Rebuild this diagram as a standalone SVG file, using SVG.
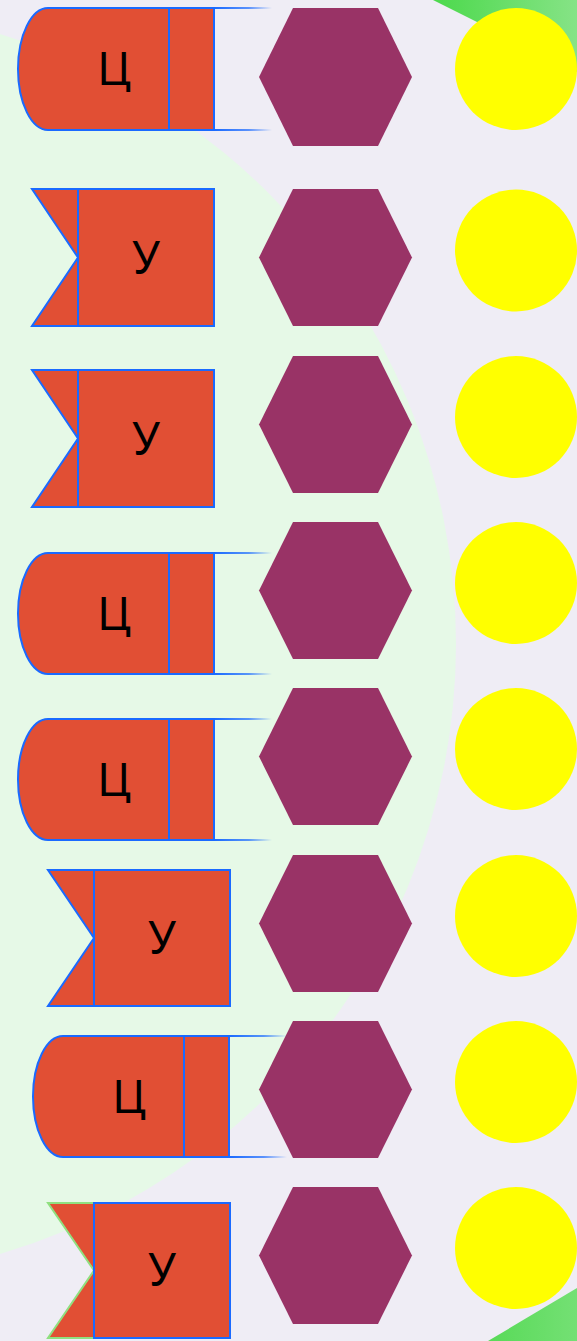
<svg xmlns="http://www.w3.org/2000/svg" width="577" height="1341" viewBox="0 0 577 1341">
  <defs>
    <linearGradient id="gTop" x1="0" y1="0" x2="1" y2="0">
      <stop offset="0" stop-color="#4CD94C"/>
      <stop offset="1" stop-color="#86E386"/>
    </linearGradient>
    <linearGradient id="gBot" x1="0" y1="0" x2="1" y2="0">
      <stop offset="0" stop-color="#58DA58"/>
      <stop offset="1" stop-color="#74E074"/>
    </linearGradient>
    <linearGradient id="fade" gradientUnits="userSpaceOnUse" x1="196" y1="0" x2="254" y2="0">
      <stop offset="0" stop-color="#1A6AFF"/>
      <stop offset="0.6" stop-color="#1A6AFF" stop-opacity="0.7"/>
      <stop offset="1" stop-color="#1A6AFF" stop-opacity="0"/>
    </linearGradient>
    <style>
      .red { fill: #E14F34; stroke: #1A6AFF; stroke-width: 2; }
      .ln { stroke: #1A6AFF; stroke-width: 2; fill: none; }
      .ext { stroke: url(#fade); stroke-width: 2; fill: none; }
      .tailg { fill: #E14F34; stroke: #90E080; stroke-width: 2; }
      .lbl { font-family: "Noto Sans", "DejaVu Sans", sans-serif; font-size: 45px; fill: #000; text-anchor: middle; }
      .hex { fill: #993366; }
      .sun { fill: #FFFF00; }
    </style>
  </defs>

  <!-- background -->
  <rect x="0" y="0" width="577" height="1341" fill="#EFEDF5"/>
  <circle cx="-180" cy="644" r="636" fill="#E6F9E7"/>
  <polygon points="433,0 577,0 577,72" fill="url(#gTop)"/>
  <polygon points="488,1341 577,1288 577,1341" fill="url(#gBot)"/>

  <!-- left column: Ц nodes and У flags -->
  <g id="c1" transform="translate(18,8)">
    <path class="red" d="M30,0 H196 V122 H30 A30,61 0 0 1 0,61 A30,61 0 0 1 30,0 Z"/>
    <line class="ln" x1="151" y1="0" x2="151" y2="122"/>
    <line class="ext" x1="196" y1="0" x2="254" y2="0"/>
    <line class="ext" x1="196" y1="122" x2="254" y2="122"/>
    <text class="lbl" x="96" y="77">Ц</text>
  </g>

  <g id="f2" transform="translate(32,189)">
    <polygon class="red" points="0,0 46,0 46,137 0,137 46,68.5"/>
    <rect class="red" x="46" y="0" width="136" height="137"/>
    <text class="lbl" x="114" y="85">У</text>
  </g>

  <g id="f3" transform="translate(32,370)">
    <polygon class="red" points="0,0 46,0 46,137 0,137 46,68.5"/>
    <rect class="red" x="46" y="0" width="136" height="137"/>
    <text class="lbl" x="114" y="85">У</text>
  </g>

  <g id="c4" transform="translate(18,553)">
    <path class="red" d="M30,0 H196 V121 H30 A30,60.5 0 0 1 0,60.5 A30,60.5 0 0 1 30,0 Z"/>
    <line class="ln" x1="151" y1="0" x2="151" y2="121"/>
    <line class="ext" x1="196" y1="0" x2="254" y2="0"/>
    <line class="ext" x1="196" y1="121" x2="254" y2="121"/>
    <text class="lbl" x="96" y="77">Ц</text>
  </g>

  <g id="c5" transform="translate(18,719)">
    <path class="red" d="M30,0 H196 V121 H30 A30,60.5 0 0 1 0,60.5 A30,60.5 0 0 1 30,0 Z"/>
    <line class="ln" x1="151" y1="0" x2="151" y2="121"/>
    <line class="ext" x1="196" y1="0" x2="254" y2="0"/>
    <line class="ext" x1="196" y1="121" x2="254" y2="121"/>
    <text class="lbl" x="96" y="77">Ц</text>
  </g>

  <g id="f6" transform="translate(48,870)">
    <polygon class="red" points="0,0 46,0 46,136 0,136 46,68"/>
    <rect class="red" x="46" y="0" width="136" height="136"/>
    <text class="lbl" x="114" y="84">У</text>
  </g>

  <g id="c7" transform="translate(33,1036)">
    <path class="red" d="M30,0 H196 V121 H30 A30,60.5 0 0 1 0,60.5 A30,60.5 0 0 1 30,0 Z"/>
    <line class="ln" x1="151" y1="0" x2="151" y2="121"/>
    <line class="ext" x1="196" y1="0" x2="254" y2="0"/>
    <line class="ext" x1="196" y1="121" x2="254" y2="121"/>
    <text class="lbl" x="96" y="77">Ц</text>
  </g>

  <g id="f8" transform="translate(48,1203)">
    <polygon class="tailg" points="0,0 46,0 46,135 0,135 46,67.5"/>
    <rect class="red" x="46" y="0" width="136" height="135"/>
    <text class="lbl" x="114" y="83">У</text>
  </g>

  <!-- middle column: hexagons -->
  <g id="h1"><polygon class="hex" points="259,77 293,8 378,8 412,77 378,146 293,146"/></g>
  <g id="h2"><polygon class="hex" points="259,257.5 293,189 378,189 412,257.5 378,326 293,326"/></g>
  <g id="h3"><polygon class="hex" points="259,424.5 293,356 378,356 412,424.5 378,493 293,493"/></g>
  <g id="h4"><polygon class="hex" points="259,590.5 293,522 378,522 412,590.5 378,659 293,659"/></g>
  <g id="h5"><polygon class="hex" points="259,756.5 293,688 378,688 412,756.5 378,825 293,825"/></g>
  <g id="h6"><polygon class="hex" points="259,923.5 293,855 378,855 412,923.5 378,992 293,992"/></g>
  <g id="h7"><polygon class="hex" points="259,1089.5 293,1021 378,1021 412,1089.5 378,1158 293,1158"/></g>
  <g id="h8"><polygon class="hex" points="259,1255.5 293,1187 378,1187 412,1255.5 378,1324 293,1324"/></g>

  <!-- right column: circles -->
  <g id="s1"><circle class="sun" cx="516" cy="69" r="61"/></g>
  <g id="s2"><circle class="sun" cx="516" cy="250.5" r="61"/></g>
  <g id="s3"><circle class="sun" cx="516" cy="417" r="61"/></g>
  <g id="s4"><circle class="sun" cx="516" cy="583" r="61"/></g>
  <g id="s5"><circle class="sun" cx="516" cy="749" r="61"/></g>
  <g id="s6"><circle class="sun" cx="516" cy="916" r="61"/></g>
  <g id="s7"><circle class="sun" cx="516" cy="1082" r="61"/></g>
  <g id="s8"><circle class="sun" cx="516" cy="1248" r="61"/></g>

  <g id="connectors"></g>
</svg>
